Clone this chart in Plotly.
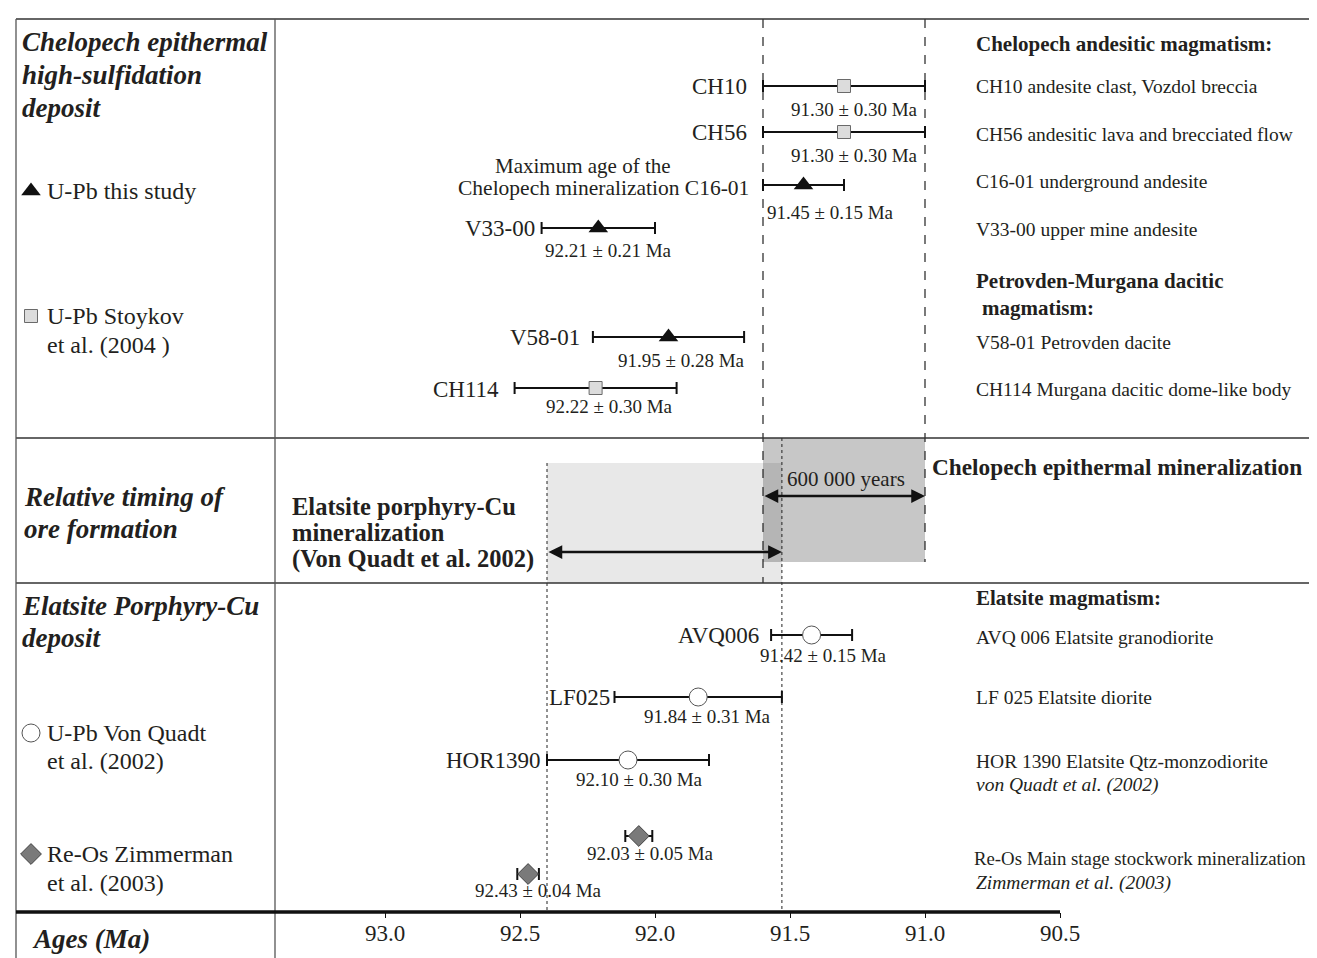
import plotly.graph_objects as go

# ---------------- data ----------------
tick_vals = [93.0, 92.5, 92.0, 91.5, 91.0, 90.5]
tick_text = ["93.0", "92.5", "92.0", "91.5", "91.0", "90.5"]

# U-Pb this study (black triangles)
this_study_names = ["C16-01", "V33-00", "V58-01"]
this_study_ages = [91.45, 92.21, 91.95]
this_study_errs = [0.15, 0.21, 0.28]

# U-Pb Stoykov et al. (2004) (grey squares)
stoykov_names = ["CH10", "CH56", "CH114"]
stoykov_ages = [91.30, 91.30, 92.22]
stoykov_errs = [0.30, 0.30, 0.30]

# U-Pb Von Quadt et al. (2002) (open circles)
vonquadt_names = ["AVQ006", "LF025", "HOR1390"]
vonquadt_ages = [91.42, 91.84, 92.10]
vonquadt_errs = [0.15, 0.31, 0.30]

# Re-Os Zimmerman et al. (2003) (grey diamonds)
zimmerman_names = ["ReOs-1", "ReOs-2"]
zimmerman_ages = [92.03, 92.43]          # labelled values
zimmerman_errs = [0.05, 0.04]
zimmerman_plot_ages = [92.06, 92.47]     # where the diamonds are drawn

chelopech_window = [91.6, 91.0]          # 600 000 years
elatsite_window = [92.40, 91.53]

# ---------------- layout helpers (positions, not data) ----------------
W, H = 1317, 958
X0_PX, PX_PER_MA, X0_AGE = 377, 270, 93.0
AXIS_ROW = 904
FONT = "Liberation Serif, Times New Roman, serif"
INK = "#231f20"


def age_at(px):
    return X0_AGE - (px - X0_PX) / PX_PER_MA


def fx(px):
    return px / W


ROW = {"CH10": 78, "CH56": 124, "C16-01": 177, "V33-00": 220, "V58-01": 329,
       "CH114": 380, "AVQ006": 627, "LF025": 689, "HOR1390": 752,
       "ReOs-1": 828, "ReOs-2": 866}
AGE_LABEL = {"CH10": (847, 101), "CH56": (847, 147), "C16-01": (822, 204),
             "V33-00": (600, 242), "V58-01": (673, 352), "CH114": (601, 398),
             "AVQ006": (815, 647), "LF025": (700, 708), "HOR1390": (631, 771),
             "ReOs-1": (642, 845), "ReOs-2": (530, 882)}
NAME_LABEL = {"CH10": (741, 78), "CH56": (741, 124), "V33-00": (529, 220),
              "V58-01": (574, 329), "CH114": (493, 381), "AVQ006": (753, 627),
              "LF025": (604, 689), "HOR1390": (535, 752)}

fig = go.Figure()


def add_group(names, ages, errs, marker):
    fig.add_trace(go.Scatter(
        x=ages, y=[ROW[n] for n in names], mode="markers", marker=marker,
        error_x=dict(type="data", array=errs, visible=True, color="#111",
                     thickness=2, width=6),
        showlegend=False, hoverinfo="skip", cliponaxis=False))


TRI = dict(symbol="triangle-up", size=17, color="#111", line=dict(width=0))
SQR = dict(symbol="square", size=13, color="#dcdcdc", line=dict(width=1, color="#6a6a6a"))
CIR = dict(symbol="circle", size=18, color="white", line=dict(width=1, color="#555"))
DIA = dict(symbol="diamond", size=16, color="#7a7a7a", line=dict(width=1, color="#444"))

# ---------------- background boxes and guide lines ----------------
shapes = []
shapes.append(dict(type="rect", xref="x", yref="y", x0=elatsite_window[0], x1=elatsite_window[1],
                   y0=455, y1=575, fillcolor="rgba(0,0,0,0.09)", line=dict(width=0), layer="below"))
shapes.append(dict(type="rect", xref="x", yref="y", x0=chelopech_window[0], x1=chelopech_window[1],
                   y0=430, y1=554, fillcolor="rgba(0,0,0,0.22)", line=dict(width=0), layer="below"))
shapes.append(dict(type="line", xref="x", yref="y", x0=chelopech_window[0], x1=chelopech_window[0],
                   y0=11, y1=575, line=dict(color="#222", width=1.2, dash="dash"), layer="below"))
shapes.append(dict(type="line", xref="x", yref="y", x0=chelopech_window[1], x1=chelopech_window[1],
                   y0=11, y1=554, line=dict(color="#222", width=1.2, dash="dash"), layer="below"))
shapes.append(dict(type="line", xref="x", yref="y", x0=elatsite_window[0], x1=elatsite_window[0],
                   y0=455, y1=AXIS_ROW, line=dict(color="#222", width=1, dash="dot"), layer="below"))
shapes.append(dict(type="line", xref="x", yref="y", x0=elatsite_window[1], x1=elatsite_window[1],
                   y0=430, y1=AXIS_ROW, line=dict(color="#222", width=1, dash="dot"), layer="below"))
for r in (11, 430, 575):
    shapes.append(dict(type="line", xref="paper", yref="y", x0=fx(8), x1=1, y0=r, y1=r,
                       line=dict(color="#333", width=1.3)))
for c in (8, 267):
    shapes.append(dict(type="line", xref="paper", yref="y", x0=fx(c), x1=fx(c), y0=11, y1=H,
                       line=dict(color="#555", width=1.3)))
shapes.append(dict(type="line", xref="x", yref="y", x0=age_at(8), x1=tick_vals[-1],
                   y0=AXIS_ROW, y1=AXIS_ROW, line=dict(color="#111", width=3.5)))

# ---------------- data traces ----------------
add_group(stoykov_names, stoykov_ages, stoykov_errs, SQR)
add_group(this_study_names, this_study_ages, this_study_errs, TRI)
add_group(vonquadt_names, vonquadt_ages, vonquadt_errs, CIR)
add_group(zimmerman_names, zimmerman_plot_ages, zimmerman_errs, DIA)

leg_rows = [183, 308, 725, 846]
leg_markers = [TRI, SQR, CIR, DIA]
for r, m in zip(leg_rows, leg_markers):
    fig.add_trace(go.Scatter(x=[age_at(23)], y=[r], mode="markers", marker=m,
                             showlegend=False, hoverinfo="skip", cliponaxis=False))

# ---------------- annotations ----------------
ann = []


def txt(px, row, text, size, anchor="left", color=INK):
    ann.append(dict(x=fx(px), y=row, xref="paper", yref="y", text=text, showarrow=False,
                    xanchor=anchor, yanchor="middle", font=dict(family=FONT, size=size, color=color)))


for names, ages, errs in ((this_study_names, this_study_ages, this_study_errs),
                          (stoykov_names, stoykov_ages, stoykov_errs),
                          (vonquadt_names, vonquadt_ages, vonquadt_errs),
                          (zimmerman_names, zimmerman_ages, zimmerman_errs)):
    for n, a, e in zip(names, ages, errs):
        x, r = AGE_LABEL[n]
        txt(x, r, f"{a:.2f} ± {e:.2f} Ma", 19, "center")

for n, (x, r) in NAME_LABEL.items():
    txt(x, r, n, 23, "right")
txt(575, 158, "Maximum age of the", 21, "center")
txt(743, 180, "Chelopech mineralization C16-01", 21.5, "right")

for px, r, t in ((12, 34, "Chelopech epithermal"), (12, 67, "high-sulfidation"), (12, 100, "deposit"),
                 (14, 489, "Relative timing of"), (14, 521, "ore formation"),
                 (12, 598, "Elatsite Porphyry-Cu"), (12, 630, "deposit"),
                 (22, 931, "Ages (Ma)")):
    txt(px, r, f"<b><i>{t}</i></b>", 27)
for px, r, t in ((37, 183, "U-Pb this study"), (37, 308, "U-Pb Stoykov"), (37, 337, "et al. (2004 )"),
                 (37, 725, "U-Pb Von Quadt"), (37, 753, "et al. (2002)"),
                 (37, 846, "Re-Os Zimmerman"), (37, 875, "et al. (2003)")):
    txt(px, r, t, 24)

for px, r, t in ((966, 36, "Chelopech andesitic magmatism:"), (966, 273, "Petrovden-Murgana dacitic"),
                 (972, 300, "magmatism:"), (966, 590, "Elatsite magmatism:")):
    txt(px, r, f"<b>{t}</b>", 21)
for px, r, t in ((966, 78, "CH10 andesite clast, Vozdol breccia"),
                 (966, 126, "CH56 andesitic lava and brecciated flow"),
                 (966, 173, "C16-01 underground andesite"),
                 (966, 221, "V33-00 upper mine andesite"),
                 (966, 334, "V58-01 Petrovden dacite"),
                 (966, 381, "CH114 Murgana dacitic dome-like body"),
                 (966, 629, "AVQ 006 Elatsite granodiorite"),
                 (966, 689, "LF 025 Elatsite diorite"),
                 (966, 753, "HOR 1390 Elatsite Qtz-monzodiorite")):
    txt(px, r, t, 19.5)
txt(964, 850, "Re-Os Main stage stockwork mineralization", 18.8)
txt(966, 777, "<i>von Quadt et al. (2002)</i>", 19.5)
txt(966, 875, "<i>Zimmerman et al. (2003)</i>", 19.5)

txt(922, 459, "<b>Chelopech epithermal mineralization</b>", 23.3)
txt(838, 471, "600 000 years", 21, "center")
txt(282, 498, "<b>Elatsite porphyry-Cu</b>", 24.5)
txt(282, 524, "<b>mineralization</b>", 24.5)
txt(282, 551, "<b>(Von Quadt et al. 2002)</b>", 24.5)

for (a0, a1), r in ((chelopech_window, 488), (elatsite_window, 544)):
    ann.append(dict(x=a1, y=r, ax=a0, ay=r, xref="x", yref="y", axref="x", ayref="y",
                    text="", showarrow=True, arrowhead=2, startarrowhead=2, arrowside="end+start",
                    arrowsize=1.1, arrowwidth=2.5, arrowcolor="#111"))

fig.update_layout(
    width=W, height=H, autosize=False,
    margin=dict(l=0, r=0, t=0, b=0),
    paper_bgcolor="white", plot_bgcolor="white",
    shapes=shapes, annotations=ann, showlegend=False,
    xaxis=dict(range=[age_at(0), age_at(W)], anchor="free", position=(H - AXIS_ROW) / H,
               tickvals=tick_vals, ticktext=tick_text, ticks="outside", ticklen=5,
               tickwidth=1, tickcolor="#111", showline=False, showgrid=False, zeroline=False,
               tickfont=dict(family=FONT, size=23, color=INK)),
    yaxis=dict(range=[H, 0], visible=False, showgrid=False, zeroline=False),
)
try:
    fig.update_xaxes(ticklabelstandoff=-5)
except Exception:
    pass

fig.write_html("out.html")
